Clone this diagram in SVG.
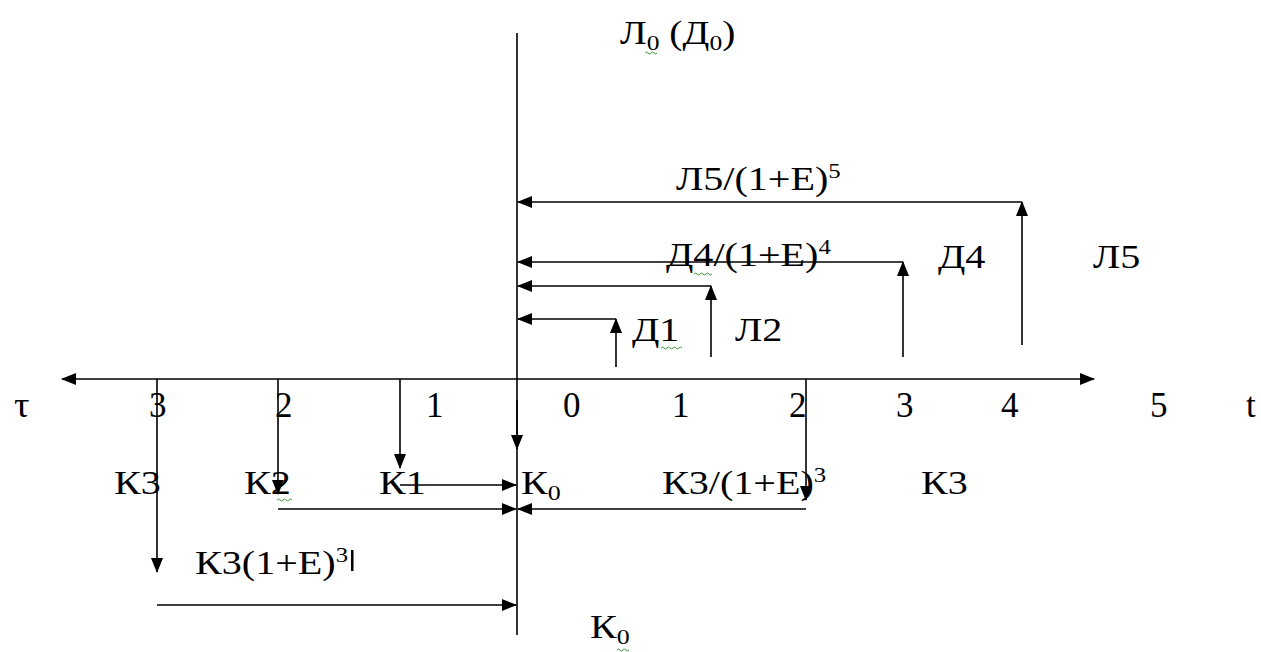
<svg xmlns="http://www.w3.org/2000/svg" width="1261" height="652" viewBox="0 0 1261 652">
<style>
.t{font-family:"Liberation Serif","Times New Roman",serif;font-size:34px;fill:#000}
.d{font-family:"Liberation Serif","Times New Roman",serif;font-size:35px;fill:#000}
.ln{stroke:#000;stroke-width:1.6;fill:none}
.ar{stroke:#000;stroke-width:1.6;fill:none;marker-end:url(#ah)}
.sq{stroke:#3a9a3a;stroke-width:1;fill:none}
</style>
<defs>
<marker id="ah" markerWidth="15" markerHeight="12" refX="14" refY="6" orient="auto" markerUnits="userSpaceOnUse">
<path d="M0,0 L15,6 L0,12 z" fill="#000"/>
</marker>
</defs>
<rect width="1261" height="652" fill="#fff"/>

<g id="connectors">
<line class="ln" x1="517" y1="33" x2="517" y2="635"/>
<line class="ar" x1="517" y1="379" x2="62" y2="379"/>
<line class="ar" x1="517" y1="379" x2="1094" y2="379"/>
<line class="ar" x1="517" y1="400" x2="517" y2="449"/>
<line class="ar" x1="1022" y1="345" x2="1022" y2="202"/>
<line class="ar" x1="1022" y1="202" x2="518" y2="202"/>
<line class="ar" x1="903" y1="357" x2="903" y2="262"/>
<line class="ar" x1="903" y1="262" x2="518" y2="262"/>
<line class="ar" x1="711" y1="357" x2="711" y2="286"/>
<line class="ar" x1="711" y1="286" x2="518" y2="286"/>
<line class="ar" x1="616" y1="367" x2="616" y2="319"/>
<line class="ar" x1="616" y1="319" x2="518" y2="319"/>
<line class="ar" x1="400" y1="379" x2="400" y2="468"/>
<line class="ar" x1="400" y1="485" x2="516" y2="485"/>
<line class="ar" x1="278" y1="379" x2="278" y2="494"/>
<line class="ar" x1="278" y1="509" x2="516" y2="509"/>
<line class="ar" x1="806" y1="379" x2="806" y2="500"/>
<line class="ar" x1="806" y1="509" x2="518" y2="509"/>
<line class="ar" x1="157" y1="379" x2="157" y2="572"/>
<line class="ar" x1="157" y1="605" x2="516" y2="605"/>
</g>

<g id="label-L0D0"><text class="t" transform="translate(620,44) scale(1.16,1)">Л<tspan font-size="22" dy="6">0</tspan><tspan dy="-6"> (Д</tspan><tspan font-size="22" dy="6">0</tspan><tspan dy="-6">)</tspan></text>
<path class="sq" d="M645,53 q1.5,-2 3,0 t3,0 t3,0 t3,0"/></g>

<g id="label-L5disc"><text class="t" transform="translate(676,190) scale(1.18,1)">Л5/(1+Е)<tspan font-size="21" dy="-12">5</tspan></text></g>
<g id="label-D4disc"><text class="t" transform="translate(666,266) scale(1.18,1)">Д4/(1+Е)<tspan font-size="21" dy="-12">4</tspan></text>
<path class="sq" d="M694,274 q1.5,-2 3,0 t3,0 t3,0 t3,0 t3,0 t3,0"/></g>
<g id="label-D4"><text class="t" transform="translate(938,268) scale(1.18,1)">Д4</text></g>
<g id="label-L5"><text class="t" transform="translate(1093,268) scale(1.18,1)">Л5</text></g>
<g id="label-D1"><text class="t" transform="translate(632,341) scale(1.18,1)">Д1</text>
<path class="sq" d="M661,348 q1.5,-2 3,0 t3,0 t3,0 t3,0 t3,0 t3,0 t3,0"/></g>
<g id="label-L2"><text class="t" transform="translate(735,341) scale(1.18,1)">Л2</text></g>

<g id="axis-labels">
<text class="d" transform="translate(14,417) scale(1.1,1)">τ</text>
<text class="d" x="149" y="417">3</text>
<text class="d" x="275" y="417">2</text>
<text class="d" x="426" y="417">1</text>
<text class="d" x="563" y="417">0</text>
<text class="d" x="672" y="417">1</text>
<text class="d" x="789" y="417">2</text>
<text class="d" x="896" y="417">3</text>
<text class="d" x="1001" y="417">4</text>
<text class="d" x="1150" y="417">5</text>
<text class="d" x="1246" y="417">t</text>
</g>

<g id="label-K3-left"><text class="t" transform="translate(114,494) scale(1.18,1)">К3</text></g>
<g id="label-K2"><text class="t" transform="translate(244,494) scale(1.18,1)">К2</text>
<path class="sq" d="M277,500 q1.5,-2 3,0 t3,0 t3,0 t3,0 t3,0"/></g>
<g id="label-K1"><text class="t" transform="translate(379,494) scale(1.18,1)">К1</text></g>
<g id="label-K0"><text class="t" transform="translate(521,494) scale(1.18,1)">К<tspan font-size="22" dy="6">0</tspan></text></g>
<g id="label-K3disc"><text class="t" transform="translate(662,494) scale(1.18,1)">К3/(1+Е)<tspan font-size="21" dy="-12">3</tspan></text></g>
<g id="label-K3-right"><text class="t" transform="translate(921,494) scale(1.18,1)">К3</text></g>

<g id="label-K3comp"><text class="t" transform="translate(195,574) scale(1.18,1)">К3(1+Е)<tspan font-size="21" dy="-12">3</tspan></text>
<rect x="351" y="550" width="2.5" height="21" fill="#000"/></g>

<g id="label-K0-bottom"><text class="t" transform="translate(590,638) scale(1.18,1)">К<tspan font-size="22" dy="6">0</tspan></text>
<path class="sq" d="M617,650 q1.5,-2 3,0 t3,0 t3,0 t3,0"/></g>
</svg>
